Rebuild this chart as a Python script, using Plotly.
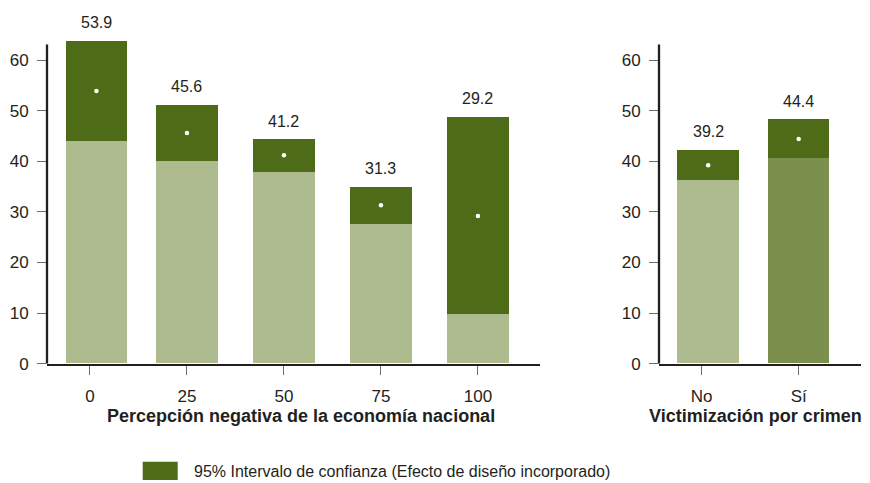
import plotly.graph_objects as go

# ---------------- data ----------------
econ_categories = ["0", "25", "50", "75", "100"]
econ_mean = [53.9, 45.6, 41.2, 31.3, 29.2]
econ_lower = [44.0, 40.0, 37.9, 27.5, 9.7]
econ_upper = [63.8, 51.1, 44.3, 34.9, 48.7]

crime_categories = ["No", "Sí"]
crime_mean = [39.2, 44.4]
crime_lower = [36.2, 40.6]
crime_upper = [42.2, 48.2]

y_tick_values = [0, 10, 20, 30, 40, 50, 60]
legend_label = "95% Intervalo de confianza (Efecto de diseño incorporado)"
econ_title = "Percepción negativa de la economía nacional"
crime_title = "Victimización por crimen"

# ---------------- style ----------------
FONT = "Liberation Sans, Arial, Helvetica, sans-serif"
TEXT = "#231f20"
AXIS = "#231f20"
TICK = "#6d6d6d"
DARK = "#4e6c18"
LIGHT = "#adbb8f"
MID = "#7a904c"
BAR_W = 0.634
FIRST_SHIFT = 0.067  # first bar of each panel sits slightly right of its tick
Y_MAX = 64.3
Y_LINE_TOP = 63.1

# reference frame (pixels of the target picture) -> paper fractions
W, H = 870, 483
FIG_H = 493
def px_x(a, b):
    return [a / W, b / W]
def py(y):
    return (H - y) / H
y_dom = [py(363.7), py(363.7 - Y_MAX * 5.06)]

fig = go.Figure()

def add_panel(cats, mean, lower, upper, base_colors, xa, ya):
    n = len(cats)
    xs = list(range(n))
    shifts = [FIRST_SHIFT if i == 0 else 0.0 for i in xs]
    offsets = [-BAR_W / 2 + s for s in shifts]
    fig.add_trace(go.Bar(
        x=xs, y=lower, width=BAR_W, offset=offsets,
        marker=dict(color=base_colors, line=dict(width=0)),
        xaxis=xa, yaxis=ya, showlegend=False, hoverinfo="skip"))
    fig.add_trace(go.Bar(
        x=xs, y=[u - l for u, l in zip(upper, lower)], base=lower,
        width=BAR_W, offset=offsets,
        marker=dict(color=DARK, line=dict(width=0)),
        xaxis=xa, yaxis=ya, showlegend=False, hoverinfo="skip"))
    fig.add_trace(go.Scatter(
        x=[x + s for x, s in zip(xs, shifts)], y=mean, mode="markers",
        marker=dict(color="white", size=4.5, line=dict(width=0)),
        xaxis=xa, yaxis=ya, showlegend=False, hoverinfo="skip"))
    xref = "x" if xa == "x" else "x2"
    yref = "y" if ya == "y" else "y2"
    for x, s, m, u in zip(xs, shifts, mean, upper):
        fig.add_annotation(x=x + s, y=u, xref=xref, yref=yref,
                           text=f"{m:.1f}", showarrow=False,
                           yanchor="bottom", yshift=8,
                           font=dict(family=FONT, size=16, color=TEXT))
    # y axis line (stops just below the top of the plot area)
    fig.add_shape(type="line", xref=f"{xref} domain", yref=yref,
                  x0=0, x1=0, y0=0, y1=Y_LINE_TOP,
                  line=dict(color=AXIS, width=2.3))

add_panel(econ_categories, econ_mean, econ_lower, econ_upper,
          [LIGHT] * len(econ_categories), "x", "y")
add_panel(crime_categories, crime_mean, crime_lower, crime_upper,
          [LIGHT, MID], "x2", "y2")

common_x = dict(showgrid=False, zeroline=False, showline=True,
                linecolor=AXIS, linewidth=2.3,
                ticks="outside", ticklen=9, tickwidth=1.2, tickcolor=TICK,
                ticklabelstandoff=7,
                tickfont=dict(family=FONT, size=17, color=TEXT),
                fixedrange=True)
common_y = dict(showgrid=False, zeroline=False, showline=False,
                range=[0, Y_MAX], tickvals=y_tick_values,
                ticks="outside", ticklen=9, tickwidth=1.2, tickcolor=TICK,
                ticklabelstandoff=5,
                tickfont=dict(family=FONT, size=17, color=TEXT),
                domain=y_dom, fixedrange=True)

fig.update_layout(
    width=W, height=FIG_H,
    margin=dict(l=0, r=0, t=0, b=0),
    paper_bgcolor="white", plot_bgcolor="white",
    barmode="overlay", bargap=0,
    showlegend=False,
    xaxis=dict(common_x, domain=px_x(47, 540), range=[-0.443, 4.64],
               tickvals=list(range(len(econ_categories))),
               ticktext=econ_categories, anchor="y"),
    yaxis=dict(common_y, anchor="x"),
    xaxis2=dict(common_x, domain=px_x(659, 861), range=[-0.44, 1.642],
                tickvals=list(range(len(crime_categories))),
                ticktext=crime_categories, anchor="y2"),
    yaxis2=dict(common_y, anchor="x2"),
)

# axis titles
fig.add_annotation(x=301 / W, y=py(416), xref="paper", yref="paper",
                   text=f"<b>{econ_title}</b>", showarrow=False,
                   xanchor="center", yanchor="middle",
                   font=dict(family=FONT, size=18, color=TEXT))
fig.add_annotation(x=755 / W, y=py(416), xref="paper", yref="paper",
                   text=f"<b>{crime_title}</b>", showarrow=False,
                   xanchor="center", yanchor="middle",
                   font=dict(family=FONT, size=18, color=TEXT))

# legend (swatch + label)
fig.add_shape(type="rect", xref="paper", yref="paper",
              x0=142.7 / W, x1=177.7 / W, y0=py(480), y1=py(461.7),
              fillcolor=DARK, line=dict(width=0))
fig.add_annotation(x=192 / W, y=py(471), xref="paper", yref="paper",
                   text=legend_label, showarrow=False,
                   xanchor="left", yanchor="middle",
                   font=dict(family=FONT, size=16, color=TEXT))

fig.write_html("out.html", config={"displayModeBar": False},
               post_script="document.body.style.margin='0px';")
